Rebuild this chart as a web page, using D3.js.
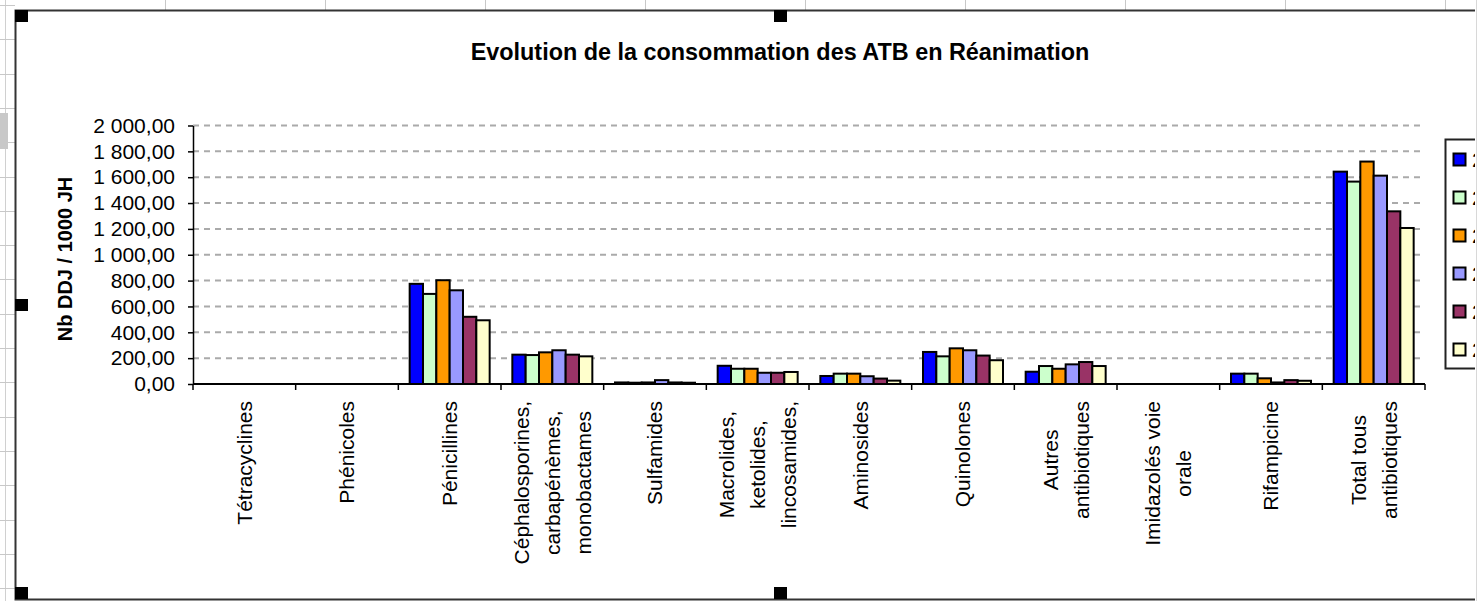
<!DOCTYPE html>
<html>
<head>
<meta charset="utf-8">
<script src="https://cdn.jsdelivr.net/npm/d3@7"></script>
<style>
  html, body { margin: 0; padding: 0; background: #fff; }
  svg { display: block; font-family: "Liberation Sans", Arial, sans-serif; }
</style>
</head>
<body>
<svg id="chart" width="1478" height="601"></svg>
<script>
// ---------- DATA ----------
const title = "Evolution de la consommation des ATB en Réanimation";
const yTitle = "Nb DDJ / 1000 JH";
const categories = [
  "Tétracyclines",
  "Phénicoles",
  "Pénicillines",
  "Céphalosporines,\ncarbapénèmes,\nmonobactames",
  "Sulfamides",
  "Macrolides,\nketolides,\nlincosamides,",
  "Aminosides",
  "Quinolones",
  "Autres\nantibiotiques",
  "Imidazolés voie\norale",
  "Rifampicine",
  "Total tous\nantibiotiques"
];
const seriesNames = ["2005", "2006", "2007", "2008", "2009", "2010"];
const s2005 = [0, 0, 775, 227, 12, 141, 62, 248, 95, 0, 80, 1643];
const s2006 = [0, 0, 697, 224, 10, 118, 80, 214, 139, 0, 80, 1566];
const s2007 = [0, 0, 803, 245, 12, 118, 80, 276, 118, 0, 44, 1721];
const s2008 = [0, 0, 725, 261, 30, 87, 60, 261, 152, 0, 12, 1612];
const s2009 = [0, 0, 520, 227, 12, 87, 42, 220, 170, 0, 30, 1336];
const s2010 = [0, 0, 493, 214, 10, 93, 26, 184, 139, 0, 25, 1207];
const seriesValues = [s2005, s2006, s2007, s2008, s2009, s2010];
const seriesColors = ["#0000FF", "#CCFFCC", "#FF9900", "#9999FF", "#993366", "#FFFFCC"];
const yTicks = [0, 200, 400, 600, 800, 1000, 1200, 1400, 1600, 1800, 2000];

// ---------- LAYOUT ----------
const svg = d3.select("#chart");
const W = 1478, H = 601;
const plot = { left: 193, right: 1425, top: 125.5, bottom: 384 };

// spreadsheet background grid (outside the chart object)
const bg = svg.append("g");
[165, 325, 485, 645, 805, 965, 1125, 1285, 1445].forEach(x =>
  bg.append("line").attr("x1", x + 0.5).attr("x2", x + 0.5).attr("y1", 0).attr("y2", 10)
    .attr("stroke", "#c8c8c8").attr("stroke-width", 1));
bg.append("line").attr("x1", 5.5).attr("x2", 5.5).attr("y1", 0).attr("y2", H).attr("stroke", "#d0d0d0");
for (let y = 5; y < H; y += 34.3) {
  bg.append("line").attr("x1", 0).attr("x2", 15).attr("y1", Math.round(y) + 0.5).attr("y2", Math.round(y) + 0.5)
    .attr("stroke", "#c8c8c8");
}
bg.append("rect").attr("x", 0).attr("y", 113).attr("width", 8).attr("height", 36).attr("fill", "#c8c8c8");

// chart area frame
svg.append("rect").attr("x", 16).attr("y", 11).attr("width", 1475 - 16).attr("height", 599 - 11)
  .attr("fill", "#fff");
svg.append("path")
  .attr("d", `M1475,10.5 H15.5 V599.5 H1475`)
  .attr("fill", "none").attr("stroke", "#333").attr("stroke-width", 2);
svg.append("line").attr("x1", 1476.5).attr("x2", 1476.5).attr("y1", 0).attr("y2", H)
  .attr("stroke", "#d8d8d8").attr("stroke-width", 1);

// title
svg.append("text").attr("x", 780).attr("y", 60).attr("text-anchor", "middle")
  .attr("font-size", 23.4).attr("font-weight", "bold").text(title);

// scales
const x = d3.scaleBand().domain(categories).range([plot.left, plot.right]).paddingInner(0).paddingOuter(0);
const xs = d3.scaleBand().domain(seriesNames).range([0, x.bandwidth()]).paddingInner(0).paddingOuter(0.85);
const y = d3.scaleLinear().domain([0, 2000]).range([plot.bottom, plot.top]);

// gridlines
svg.append("g").selectAll("line").data(yTicks.filter(t => t > 0)).join("line")
  .attr("x1", plot.left).attr("x2", plot.right)
  .attr("y1", d => y(d)).attr("y2", d => y(d))
  .attr("stroke", "#aaaaaa").attr("stroke-width", 2).attr("stroke-dasharray", "6,5");

// bars
const groups = svg.append("g").selectAll("g").data(seriesNames).join("g");
groups.selectAll("rect")
  .data((s, i) => categories.map((c, j) => ({ c, s, v: seriesValues[i][j], col: seriesColors[i] })).filter(d => d.v > 0))
  .join("rect")
  .attr("x", d => x(d.c) + xs(d.s))
  .attr("width", xs.bandwidth())
  .attr("y", d => y(d.v))
  .attr("height", d => y(0) - y(d.v))
  .attr("fill", d => d.col)
  .attr("stroke", "#000").attr("stroke-width", 2);

// y axis
const fr = d3.formatLocale({ decimal: ",", thousands: " ", grouping: [3], currency: ["", ""] });
const fmt = fr.format(",.2f");
const yAxis = svg.append("g").attr("transform", `translate(${plot.left},0)`)
  .call(d3.axisLeft(y).tickValues(yTicks).tickFormat(fmt).tickSize(5).tickSizeOuter(0).tickPadding(13));
yAxis.selectAll("text").attr("font-size", 21).attr("fill", "#000")
  .attr("font-family", "'Liberation Sans', Arial, sans-serif");
yAxis.selectAll("line").attr("stroke", "#000").attr("stroke-width", 1.5);
yAxis.select(".domain").attr("stroke", "#000").attr("stroke-width", 1.5);

// x axis
const xAxis = svg.append("g").attr("transform", `translate(0,${plot.bottom})`);
xAxis.append("line").attr("x1", plot.left).attr("x2", plot.right).attr("stroke", "#000").attr("stroke-width", 2);
const boundaries = categories.map(c => x(c)).concat([plot.right]);
xAxis.selectAll("line.tk").data(boundaries).join("line").attr("class", "tk")
  .attr("x1", d => d).attr("x2", d => d).attr("y1", 0).attr("y2", 6)
  .attr("stroke", "#000").attr("stroke-width", 1.5);

// category labels (rotated, multi-line, centred on each other)
const lineGap = 31, labelTop = 401;
categories.forEach(c => {
  const lines = c.split("\n");
  const cx = x(c) + x.bandwidth() / 2;
  const g = svg.append("g");
  const texts = lines.map((ln, i) => {
    const lx = cx + (i - (lines.length - 1) / 2) * lineGap;
    return g.append("text").attr("font-size", 21).attr("text-anchor", "middle")
      .attr("dy", "0.35em").attr("data-lx", lx).text(ln);
  });
  const maxW = d3.max(texts, t => t.node().getComputedTextLength());
  const cy = labelTop + maxW / 2;
  texts.forEach(t => {
    const lx = +t.attr("data-lx");
    t.attr("transform", `translate(${lx},${cy}) rotate(-90)`);
  });
});

// y title
svg.append("text").attr("transform", `translate(72,259) rotate(-90)`)
  .attr("text-anchor", "middle").attr("font-size", 20).attr("font-weight", "bold").text(yTitle);

// legend (clipped at window edge, as in the reference)
svg.append("clipPath").attr("id", "legclip").append("rect")
  .attr("x", 0).attr("y", 0).attr("width", 1475).attr("height", H);
const leg = svg.append("g").attr("clip-path", "url(#legclip)");
leg.append("rect").attr("x", 1445.5).attr("y", 139.5).attr("width", 80).attr("height", 229)
  .attr("fill", "#fff").attr("stroke", "#222").attr("stroke-width", 2);
seriesNames.forEach((s, i) => {
  const cy = 160 + i * 38;
  leg.append("rect").attr("x", 1453.5).attr("y", cy - 6.5).attr("width", 12).attr("height", 12)
    .attr("fill", seriesColors[i]).attr("stroke", "#000").attr("stroke-width", 2);
  leg.append("text").attr("x", 1472).attr("y", cy).attr("dy", "0.35em").attr("font-size", 21).text(s);
});

// selection handles
[[15, 10], [774, 10], [15, 299], [15, 587], [774, 587]].forEach(([hx, hy]) =>
  svg.append("rect").attr("x", hx).attr("y", hy).attr("width", 13).attr("height", 12).attr("fill", "#000"));
</script>
</body>
</html>
